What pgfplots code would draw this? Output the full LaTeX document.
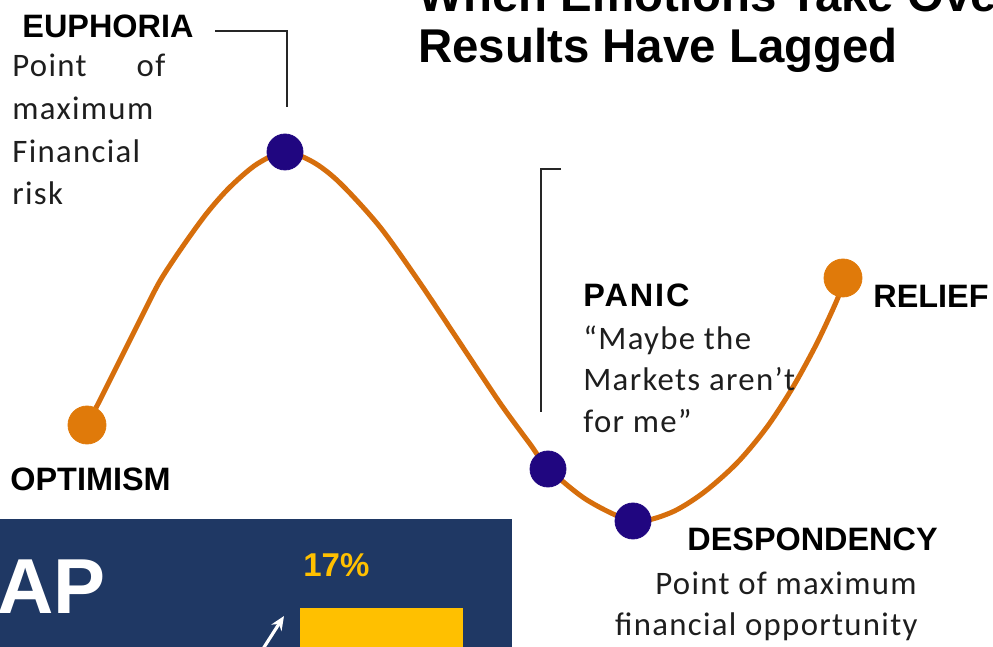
\documentclass[border=0pt]{standalone}
\usepackage{fontspec}
\setmainfont{Carlito}
\newfontfamily\headfont{Liberation Sans}
\usepackage{pgfplots}
\pgfplotsset{compat=1.18}
\usetikzlibrary{arrows.meta}

\definecolor{curveorange}{RGB}{214,110,12}
\definecolor{dotorange}{RGB}{224,122,10}
\definecolor{dotnavy}{RGB}{32,6,128}
\definecolor{boxblue}{RGB}{31,56,100}
\definecolor{baryellow}{RGB}{255,192,0}
\definecolor{bodygray}{RGB}{30,30,30}

\begin{document}
\begin{tikzpicture}
% canvas: 1 unit = 0.5pt, y measured downward from the top edge
\path[use as bounding box, clip] (0,0) rectangle (496.5pt,323.5pt);
\begin{axis}[
  at={(0,0)}, anchor=south west,
  scale only axis, width=496.5pt, height=323.5pt,
  xmin=0, xmax=993, ymin=0, ymax=647,
  y dir=reverse, hide axis, clip=false,
]
% --- lower panel ---
\addplot[draw=none, fill=boxblue] coordinates {(-5,519) (512,519) (512,660) (-5,660)} -- cycle;
\addplot[draw=none, fill=baryellow] coordinates {(300,608) (463,608) (463,660) (300,660)} -- cycle;
\addplot[white, line width=1.6pt, -{Stealth[length=7pt,width=6pt]}] coordinates {(261,652) (284,616)};
\node[anchor=base west, inner sep=0, text=white, font=\headfont\bfseries\fontsize{39}{44}\selectfont] at (-3,613) {AP};
\node[anchor=base west, inner sep=0, text=baryellow, font=\headfont\bfseries\fontsize{16.5}{19}\selectfont] at (303,576) {17\%};

% --- leader lines ---
\addplot[black!85, line width=0.7pt] coordinates {(215,31) (287,31) (287,107)};
\addplot[black!85, line width=0.7pt] coordinates {(561,169) (541,169) (541,412)};

% --- emotion cycle ---
\addplot[curveorange, line width=2.5pt, smooth, tension=0.5] coordinates {
  (87,425) (100,400) (120,360) (140,320) (160,281) (183,246) (207,213)
  (230,187) (257,164) (285,152) (313,162) (340,183) (380,227) (420,283)
  (460,343) (500,403) (530,444) (548,468) (587,500) (633,521) (670,513)
  (703,493) (737,463) (767,427) (793,387) (817,343) (837,300) (843,282)
};
\addplot[only marks, mark=*, mark size=9.5pt, mark options={fill=dotorange, draw=dotorange}]
  coordinates {(87,425) (843,278)};
\addplot[only marks, mark=*, mark size=9pt, mark options={fill=dotnavy, draw=dotnavy}]
  coordinates {(285,152) (548,469) (633,521)};

% --- title ---
\node[anchor=base west, inner sep=0, font=\headfont\bfseries\fontsize{23.7}{26}\selectfont] at (418,12) {When Emotions Take Over};
\node[anchor=base west, inner sep=0, font=\headfont\bfseries\fontsize{23.7}{26}\selectfont] at (418,63) {Results Have Lagged};

% --- stage labels ---
\tikzset{stage/.style={anchor=base west, inner sep=0, font=\headfont\bfseries\fontsize{16.2}{19}\selectfont}}
\tikzset{body/.style={inner sep=0, text=bodygray, font=\addfontfeature{LetterSpace=4}\fontsize{16.4}{19}\selectfont}}
\node[stage] at (22,38) {EUPHORIA};
\node[body, anchor=base west, text width=76.5pt] at (12,77) {Point\hfill of};
\node[body, anchor=base west] at (12,120) {maximum};
\node[body, anchor=base west] at (12,163) {Financial};
\node[body, anchor=base west] at (12,205) {risk};

\node[stage, font=\headfont\bfseries\addfontfeature{LetterSpace=6}\fontsize{16.2}{19}\selectfont] at (583,307) {PANIC};
\node[body, anchor=base west] at (583,350) {“Maybe the};
\node[body, anchor=base west] at (583,391) {Markets aren’t};
\node[body, anchor=base west] at (583,433) {for me”};

\node[stage] at (873,308) {RELIEF};
\node[stage] at (10,491) {OPTIMISM};
\node[stage] at (687,551) {DESPONDENCY};
\node[body, anchor=base east] at (917,595) {Point of maximum};
\node[body, anchor=base east] at (918,635) {financial opportunity};
\end{axis}
\end{tikzpicture}
\end{document}
